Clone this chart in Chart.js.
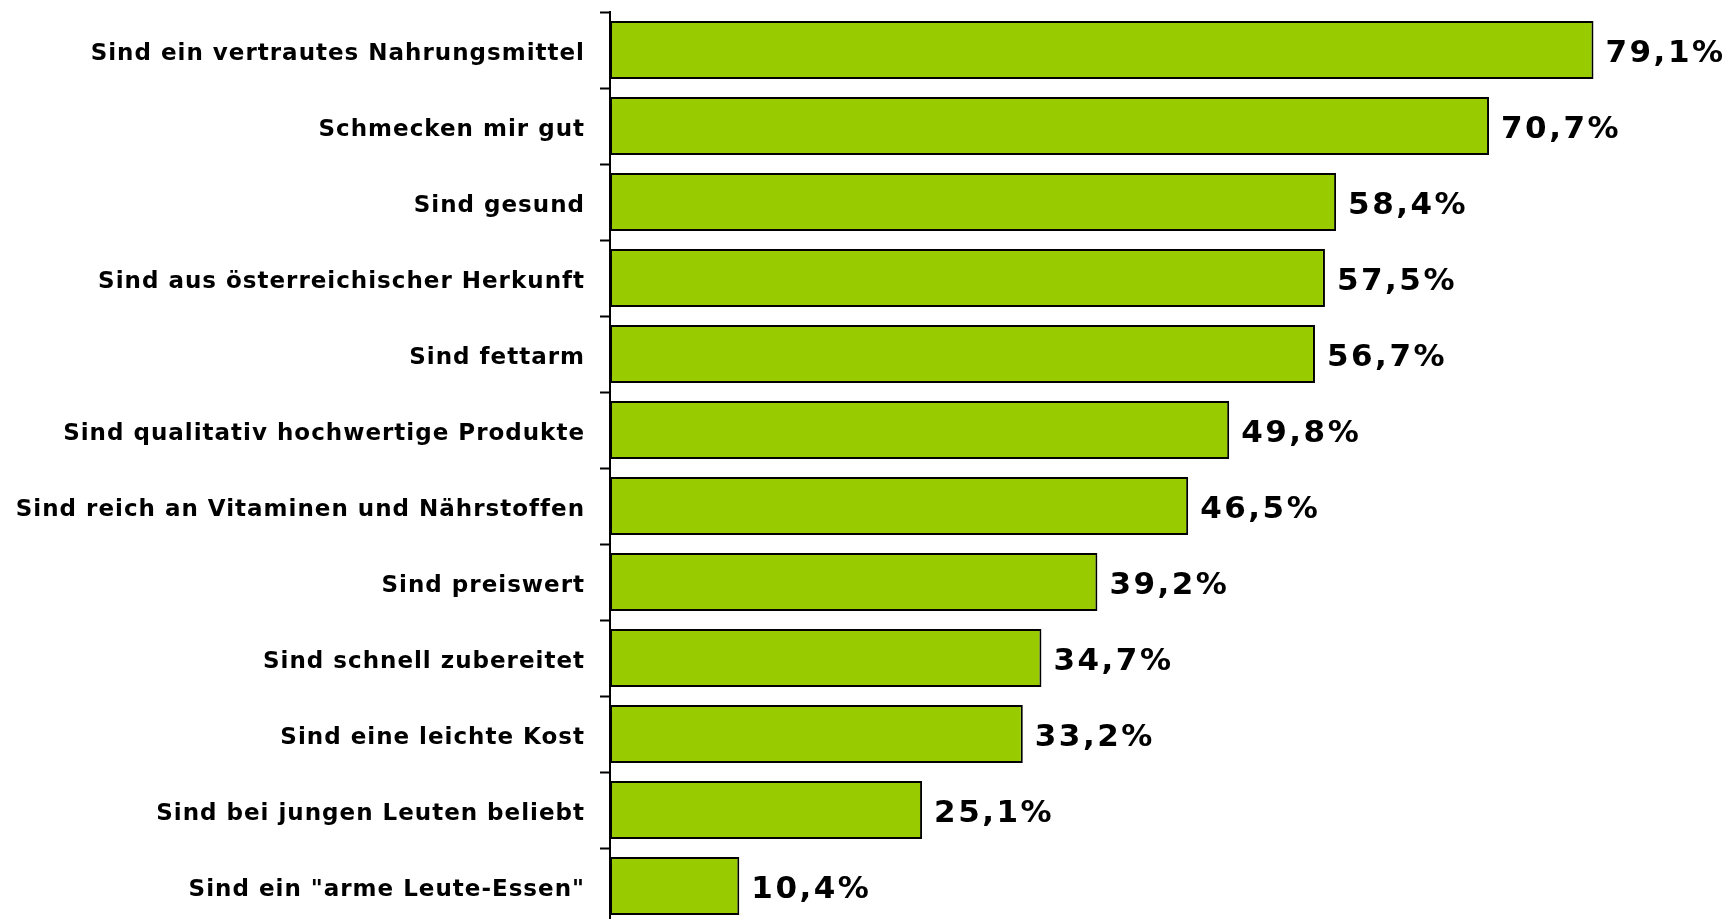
<!DOCTYPE html>
<html>
<head>
<meta charset="utf-8">
<script src="https://cdn.jsdelivr.net/npm/chart.js@4/dist/chart.umd.min.js"></script>
<style>
  html, body { margin: 0; padding: 0; background: #fff; overflow: hidden; }
  #wrap { width: 1729px; height: 919px; overflow: hidden; position: relative; }
  canvas { display: block; }
</style>
</head>
<body>
<div id="wrap"><canvas id="c" width="1729" height="924"></canvas></div>
<script>
const categories = [
  'Sind ein vertrautes Nahrungsmittel',
  'Schmecken mir gut',
  'Sind gesund',
  'Sind aus österreichischer Herkunft',
  'Sind fettarm',
  'Sind qualitativ hochwertige Produkte',
  'Sind reich an Vitaminen und Nährstoffen',
  'Sind preiswert',
  'Sind schnell zubereitet',
  'Sind eine leichte Kost',
  'Sind bei jungen Leuten beliebt',
  'Sind ein "arme Leute-Essen"'
];
const values = [79.1, 70.7, 58.4, 57.5, 56.7, 49.8, 46.5, 39.2, 34.7, 33.2, 25.1, 10.4];
const xMin = 0;
const xMax = 90;

const fmt = v => v.toFixed(1).replace('.', ',') + '%';

const spacingPlugin = {
  id: 'spacing',
  beforeDraw(chart) { chart.ctx.letterSpacing = '1px'; }
};

const valueLabels = {
  id: 'valueLabels',
  afterDatasetsDraw(chart) {
    const ctx = chart.ctx;
    const meta = chart.getDatasetMeta(0);
    ctx.save();
    ctx.letterSpacing = '2.5px';
    ctx.font = 'bold 31px "DejaVu Sans"';
    ctx.fillStyle = '#000';
    ctx.textAlign = 'left';
    ctx.textBaseline = 'middle';
    meta.data.forEach((bar, i) => {
      ctx.fillText(fmt(values[i]), bar.x + 12, bar.y + 4);
    });
    ctx.restore();
  }
};

new Chart(document.getElementById('c'), {
  type: 'bar',
  data: {
    labels: categories,
    datasets: [{
      data: values,
      backgroundColor: '#99CC00',
      borderColor: '#000',
      borderWidth: 2,
      borderSkipped: false,
      barPercentage: 0.76,
      categoryPercentage: 1.0
    }]
  },
  options: {
    indexAxis: 'y',
    responsive: false,
    animation: false,
    devicePixelRatio: 1,
    layout: { padding: { top: 12, right: 0, bottom: 0, left: 0 } },
    plugins: { legend: { display: false }, tooltip: { enabled: false }, title: { display: false } },
    scales: {
      x: { display: false, min: xMin, max: xMax },
      y: {
        afterFit(scale) {
          scale.width = 610;
          scale.paddingTop = 0;
          scale.paddingBottom = 0;
        },
        border: { display: true, color: '#000', width: 2 },
        grid: {
          offset: true,
          drawOnChartArea: false,
          drawTicks: true,
          tickLength: 10,
          tickColor: '#000',
          tickWidth: 2
        },
        ticks: {
          color: '#000',
          padding: 15,
          labelOffset: 4,
          font: { family: '"DejaVu Sans"', size: 23, weight: 'bold' }
        }
      }
    }
  },
  plugins: [spacingPlugin, valueLabels]
});
</script>
</body>
</html>
